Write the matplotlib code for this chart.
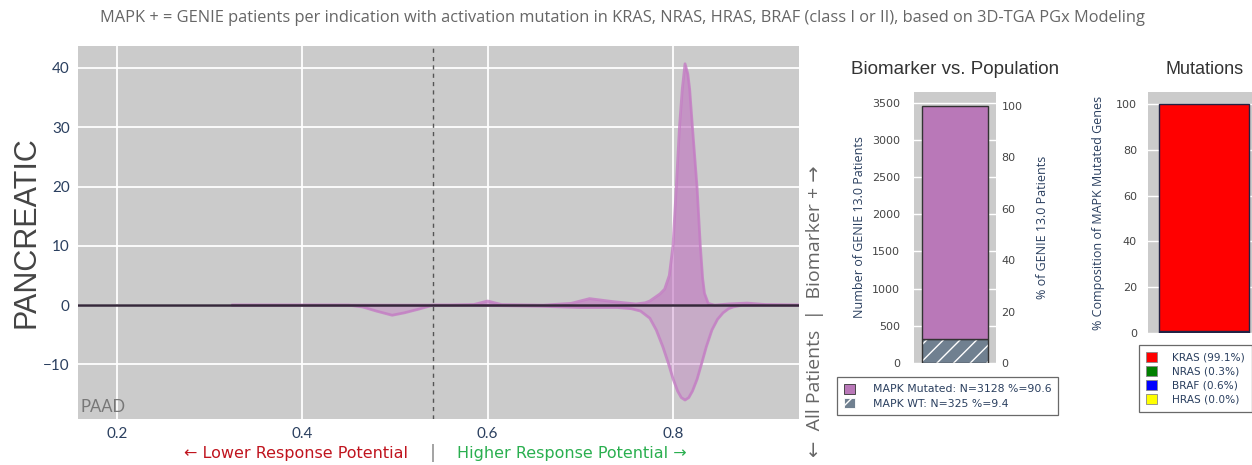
import matplotlib.pyplot as plt
from matplotlib.patches import Patch

# density of predicted response, biomarker+ patients (plotted upward)
biomarker_x = [0.325, 0.45, 0.56, 0.585, 0.60, 0.615, 0.66, 0.69, 0.71, 0.735, 0.76,
               0.770, 0.775, 0.786, 0.791, 0.796, 0.800, 0.8035, 0.807, 0.810, 0.813,
               0.816, 0.818, 0.821, 0.826, 0.8295, 0.832, 0.834, 0.838, 0.845,
               0.86, 0.88, 0.90, 0.936]
biomarker_y = [0, 0, 0, 0.1, 0.7, 0.1, 0, 0.3, 1.1, 0.6, 0.2,
               0.4, 0.7, 1.9, 2.7, 5, 10, 19.8, 30, 36.4, 40.7,
               39, 36.4, 30, 19.8, 10, 4.5, 2, 0.3, 0,
               0.2, 0.35, 0.1, 0]

# density of predicted response, all patients (plotted downward)
all_x = [0.325, 0.45, 0.465, 0.48, 0.497, 0.51, 0.525, 0.541, 0.58, 0.66, 0.70,
         0.74, 0.755, 0.765, 0.775, 0.782, 0.789, 0.795, 0.800, 0.805, 0.809,
         0.813, 0.817, 0.821, 0.826, 0.831, 0.836, 0.842, 0.848, 0.854, 0.860,
         0.865, 0.875, 0.936]
all_y = [0, 0, -0.3, -1.0, -1.7, -1.3, -0.7, 0, 0, -0.2, -0.4,
         -0.4, -0.6, -1.0, -2.2, -4.2, -7.0, -9.8, -12.4, -14.5, -15.6,
         -16, -15.6, -14.5, -12.5, -9.8, -7.0, -4.2, -2.4, -1.3, -0.6,
         -0.3, 0, 0]

cutoff = 0.541

pop_labels = ["MAPK Mutated: N=3128 %=90.6", "MAPK WT: N=325 %=9.4"]
n_mutated = 3128
n_wt = 325

genes = ["KRAS", "NRAS", "BRAF", "HRAS"]
gene_pct = [99.1, 0.3, 0.6, 0.0]
gene_colors = ["#ff0000", "#008000", "#0000ff", "#ffff00"]

bg = "#cbcbcb"
tick_col = "#2a3f5f"
arrow_fonts = ["Open Sans", "DejaVu Sans"]

fig = plt.figure(figsize=(12.52, 4.65), dpi=100)

fig.text(0.497, 0.962, "MAPK + = GENIE patients per indication with activation mutation in KRAS, NRAS, HRAS, "
         "BRAF (class I or II), based on 3D-TGA PGx Modeling",
         ha="center", va="center", fontsize=11.8, color="#666666", family="Open Sans")

# main density panel
ax = fig.add_axes([0.0623, 0.0989, 0.5759, 0.8022])
ax.set_facecolor(bg)
ax.set_xlim(0.158, 0.936)
ax.set_ylim(-19.2, 43.7)
ax.set_xticks([0.2, 0.4, 0.6, 0.8])
ax.set_yticks([-10, 0, 10, 20, 30, 40])
ax.set_yticklabels(["\u221210", "0", "10", "20", "30", "40"])
ax.grid(True, color="white", linewidth=1.3)
ax.set_axisbelow(True)
for s in ax.spines.values():
    s.set_visible(False)
ax.tick_params(length=0, labelsize=11, labelcolor=tick_col, pad=6)
for lab in ax.get_xticklabels() + ax.get_yticklabels():
    lab.set_family("Lato")

ax.fill_between(biomarker_x, biomarker_y, 0, color="#c070c0", alpha=0.6, linewidth=0)
ax.plot(biomarker_x, biomarker_y, color="#c47cc4", linewidth=2, alpha=0.8)
ax.fill_between(all_x, all_y, 0, color="#c070c0", alpha=0.35, linewidth=0)
ax.plot(all_x, all_y, color="#c47cc4", linewidth=2, alpha=0.8)
ax.axhline(0, color="#35283a", linewidth=1.8)
ax.axvline(cutoff, color="#555555", linewidth=1, linestyle=(0, (3, 3)))

fig.text(27 / 1252, 1 - 232 / 465, "PANCREATIC", rotation=90, ha="center", va="center",
         fontsize=22, color="#444444", family="Liberation Sans")
ax.text(0.004, 0.012, "PAAD", transform=ax.transAxes, fontsize=12, color="#777777",
        family="Lato", ha="left", va="bottom")

fig.text(0.326, 0.025, "\u2190 Lower Response Potential", ha="right", va="center",
         fontsize=11.5, color="#c0141e", family="DejaVu Sans")
fig.text(0.346, 0.025, "|", ha="center", va="center", fontsize=13, color="#888888")
fig.text(0.365, 0.025, "Higher Response Potential \u2192", ha="left", va="center",
         fontsize=11.5, color="#2aaf4f", family="DejaVu Sans")
fig.text(0.651, 0.33, "\u2190  All Patients  |  Biomarker + \u2192", rotation=90,
         ha="center", va="center", fontsize=14, color="#666666", family=arrow_fonts)

# biomarker vs population bar
total = n_mutated + n_wt
axb = fig.add_axes([0.730, 0.2194, 0.0655, 0.5828])
axb.set_facecolor(bg)
axb.set_xlim(-0.5, 0.5)
axb.set_ylim(0, 3642)
axb.set_xticks([])
axb.set_yticks(range(0, 3501, 500))
axb.grid(True, axis="y", color="white", linewidth=1)
axb.set_axisbelow(True)
for s in axb.spines.values():
    s.set_visible(False)
axb.tick_params(length=0, labelsize=8, labelcolor="#444444", pad=10)
axb.bar(0, n_wt, width=0.8, color="#708090", hatch="//", edgecolor="white", linewidth=0)
axb.bar(0, n_wt, width=0.8, fill=False, edgecolor="#333333", linewidth=1)
axb.bar(0, n_mutated, bottom=n_wt, width=0.8, color="#b978b8", edgecolor="#333333", linewidth=1)
axb.set_ylabel("Number of GENIE 13.0 Patients", fontsize=9, color=tick_col,
               family="Open Sans", labelpad=4)
axb.set_title("Biomarker vs. Population", fontsize=13.5, color="#333333",
              family="Liberation Sans", pad=13)

axp = axb.twinx()
axp.set_ylim(0, 3642 / total * 100)
axp.set_yticks(range(0, 101, 20))
for s in axp.spines.values():
    s.set_visible(False)
axp.tick_params(length=0, labelsize=8, labelcolor="#444444", pad=4)
axp.set_ylabel("% of GENIE 13.0 Patients", fontsize=9, color=tick_col,
               family="Open Sans", labelpad=10)

pop_handles = [Patch(facecolor="#b978b8", edgecolor="#333333", linewidth=0.6),
               Patch(facecolor="#708090", edgecolor="white", hatch="//", linewidth=0.6)]
leg = fig.legend(pop_handles, pop_labels, loc="upper left",
                 bbox_to_anchor=(837 / 1252, 1 - 377 / 465), borderaxespad=0,
                 fancybox=False, edgecolor="#444444", fontsize=7.8,
                 handlelength=1.1, handleheight=1.1, handletextpad=1.6,
                 labelspacing=0.3, borderpad=0.6, labelcolor="#2a3f5f")
leg.get_frame().set_linewidth(0.9)

# mutation composition bar
axm = fig.add_axes([0.917, 0.2839, 0.0895, 0.5183])
axm.set_facecolor(bg)
axm.set_xlim(-0.5, 0.5)
axm.set_ylim(0, 105.2)
axm.set_xticks([])
axm.set_yticks(range(0, 101, 20))
axm.grid(True, axis="y", color="white", linewidth=1)
axm.set_axisbelow(True)
for s in axm.spines.values():
    s.set_visible(False)
axm.tick_params(length=0, labelsize=8, labelcolor="#444444", pad=8)

bottom = 0.0
for i in [3, 2, 1, 0]:
    axm.bar(0, gene_pct[i], bottom=bottom, width=0.8, color=gene_colors[i],
            edgecolor="#222244", linewidth=1)
    bottom += gene_pct[i]
axm.set_ylabel("% Composition of MAPK Mutated Genes", fontsize=9, color=tick_col,
               family="Open Sans", labelpad=8)
axm.set_title("Mutations", fontsize=13, color="#333333", family="Liberation Sans", pad=13)

gene_handles = [Patch(facecolor=c, edgecolor="#888888", linewidth=0.6) for c in gene_colors]
gene_labels = [f"{g} ({p:.1f}%)" for g, p in zip(genes, gene_pct)]
leg2 = fig.legend(gene_handles, gene_labels, loc="upper left",
                  bbox_to_anchor=(1139 / 1252, 1 - 345 / 465), borderaxespad=0,
                  fancybox=False, edgecolor="#444444", fontsize=7.6,
                  handlelength=1.0, handleheight=1.0, handletextpad=1.4,
                  labelspacing=0.35, borderpad=0.7, labelcolor="#2a3f5f")
leg2.get_frame().set_linewidth(0.9)

fig.savefig("out.png", dpi=100, facecolor="white")
